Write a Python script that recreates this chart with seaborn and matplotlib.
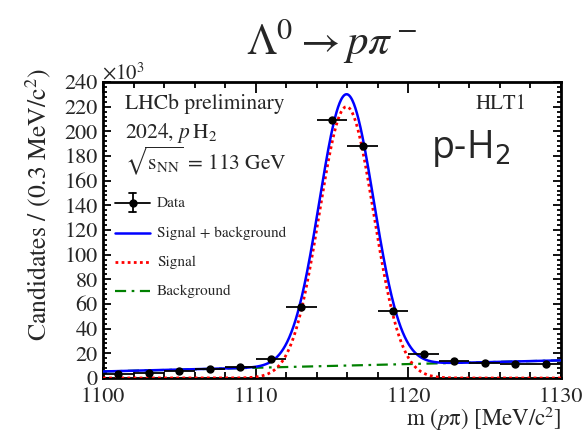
import numpy as np
import pandas as pd
import matplotlib
matplotlib.use("Agg")
import matplotlib.pyplot as plt
import seaborn as sns
from matplotlib.lines import Line2D
from matplotlib.ticker import MultipleLocator

# Binned p-pi invariant mass spectrum (candidates in units of 10^3)
mass_bins = [1101, 1103, 1105, 1107, 1109, 1111, 1113, 1115,
             1117, 1119, 1121, 1123, 1125, 1127, 1129]
candidates_k = [3.2, 4.0, 5.7, 7.0, 8.9, 15.4, 57.8, 209.0,
                188.2, 54.3, 19.7, 13.5, 11.9, 11.4, 11.6]
bin_half_width = 1.0

# Fit result: Gaussian signal on a linear background (units of 10^3)
sig_peak = 220.0
sig_mean = 1115.95
sig_width = 1.78
bkg_at_1100 = 5.3
bkg_slope = 0.30

x_ticks = [1100, 1110, 1120, 1130]
y_ticks = list(range(0, 241, 20))

sns.set_theme(style="ticks")
plt.rcParams["font.family"] = ["STIXGeneral", "DejaVu Serif"]
plt.rcParams["mathtext.fontset"] = "stix"

W, H = 586, 436
fig = plt.figure(figsize=(W / 100, H / 100), dpi=100)
fig.patch.set_facecolor("white")


def fx(px):
    return px / W


def fy(py):
    return 1 - py / H


ax = fig.add_axes([fx(103), fy(378), fx(561) - fx(103), fy(82) - fy(378)])
ax.set_facecolor("white")

# fit model evaluated on a fine grid
m = np.linspace(1100, 1130, 901)
bkg = bkg_at_1100 + bkg_slope * (m - 1100)
sig = sig_peak * np.exp(-0.5 * ((m - sig_mean) / sig_width) ** 2)
curves = pd.DataFrame({"m": m, "bkg": bkg, "sig": sig, "tot": sig + bkg})

sns.lineplot(data=curves, x="m", y="bkg", ax=ax, color="#008000", lw=1.6,
             zorder=3)
ax.lines[-1].set_dashes([5, 2.5, 1.2, 2.5])
sns.lineplot(data=curves, x="m", y="sig", ax=ax, color="#ff0000", lw=2.0,
             linestyle=(0, (1, 1.2)), zorder=3)
sns.lineplot(data=curves, x="m", y="tot", ax=ax, color="#0000ff", lw=1.8,
             zorder=4)

counts = np.array(candidates_k)
stat_err = np.sqrt(counts * 1e3) / 1e3
ax.errorbar(mass_bins, candidates_k, xerr=bin_half_width, yerr=stat_err,
            fmt="o", color="black", ms=5, elinewidth=1.3, capsize=0, zorder=5)

ax.set_xlim(1100, 1130)
ax.set_ylim(0, 240)
ax.set_xlabel("")
ax.set_ylabel("")
ax.set_xticks(x_ticks)
ax.set_yticks(y_ticks)
ax.xaxis.set_minor_locator(MultipleLocator(2))
ax.yaxis.set_minor_locator(MultipleLocator(4))
ax.tick_params(which="both", direction="in", top=True, right=True,
               width=1.3, color="black")
ax.tick_params(axis="x", which="major", length=8, pad=7, labelsize=16)
ax.tick_params(axis="x", which="minor", length=4)
ax.tick_params(axis="y", which="major", length=6, pad=4, labelsize=16)
ax.tick_params(axis="y", which="minor", length=3.2)
for sp in ax.spines.values():
    sp.set_linewidth(2)
    sp.set_color("black")

# titles and axis labels
fig.text(fx(331), fy(55), r"$\Lambda^0 \rightarrow p\pi^-$", ha="center",
         va="baseline", fontsize=31)
fig.text(fx(38), fy(68), r"Candidates / (0.3 MeV/c$^2$)", rotation=90,
         ha="center", va="top", fontsize=18.5)
fig.text(fx(562), fy(426), r"m ($p$π) [MeV/c$^2$]", ha="right",
         va="baseline", fontsize=16.5)
fig.text(fx(102), fy(79), r"$\times10^3$", ha="left", va="baseline",
         fontsize=15)

# annotations inside the frame
fig.text(fx(125), fy(109), "LHCb preliminary", ha="left", va="baseline",
         fontsize=15.5)
fig.text(fx(125), fy(138), r"2024, $p\,$H$_2$", ha="left", va="baseline",
         fontsize=15.5)
fig.text(fx(125), fy(169), r"$\sqrt{\mathrm{s}_{\mathrm{NN}}}$ = 113 GeV",
         ha="left", va="baseline", fontsize=15.5)
fig.text(fx(527), fy(109), "HLT1", ha="right", va="baseline", fontsize=15)
fig.text(fx(431), fy(158), "p-H$_2$", ha="left", va="baseline", fontsize=27,
         family=["Open Sans", "DejaVu Sans"], math_fontfamily="dejavusans")

# legend
leg_rows = [("Data", 203), ("Signal + background", 233), ("Signal", 262),
            ("Background", 291)]
x0, x1, xt = 115, 150, 157
xm = (x0 + x1) / 2
fig.add_artist(Line2D([fx(x0), fx(x1)], [fy(203), fy(203)], color="black",
                      lw=1.3))
fig.add_artist(Line2D([fx(xm), fx(xm)], [fy(193), fy(212)], color="black",
                      lw=1.3))
for yc in (193, 212):
    fig.add_artist(Line2D([fx(xm - 3.5), fx(xm + 3.5)], [fy(yc), fy(yc)],
                          color="black", lw=1.3))
fig.add_artist(Line2D([fx(xm)], [fy(203)], marker="o", ms=5, color="black",
                      lw=0))
fig.add_artist(Line2D([fx(x0), fx(x1)], [fy(233), fy(233)], color="#0000ff",
                      lw=1.8))
fig.add_artist(Line2D([fx(x0), fx(x1)], [fy(262), fy(262)], color="#ff0000",
                      lw=2.0, linestyle=(0, (1, 1.2))))
gl = Line2D([fx(x0), fx(x1)], [fy(291), fy(291)], color="#008000", lw=1.6)
gl.set_dashes([5, 2.5, 1.2, 2.5])
fig.add_artist(gl)
for label, yc in leg_rows:
    fig.text(fx(xt), fy(yc), label, ha="left", va="center", fontsize=11)

fig.savefig("out.png", dpi=100, facecolor="white")
